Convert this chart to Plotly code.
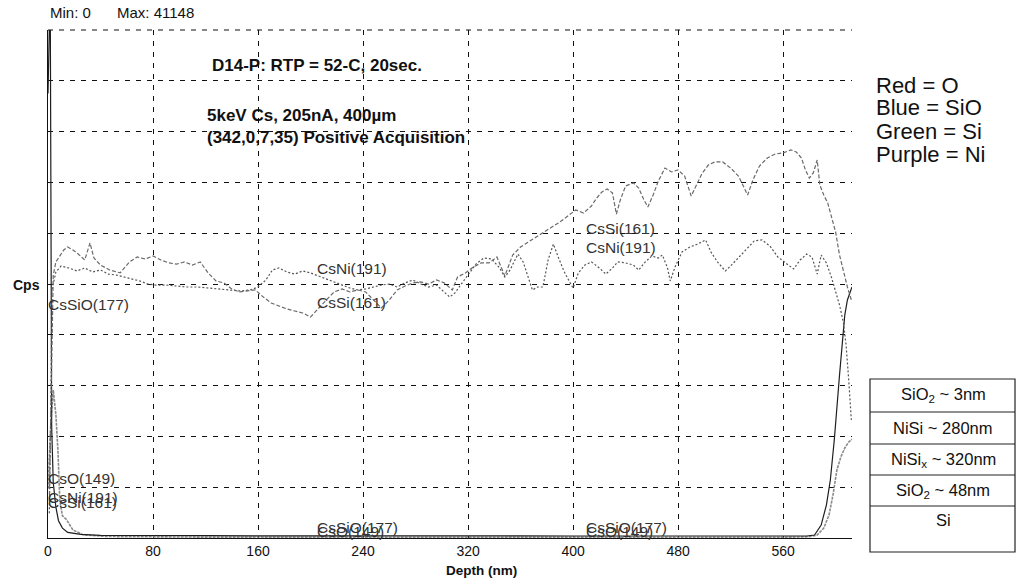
import plotly.graph_objects as go

# ---------------- data (depth in nm, intensity in counts/s) ----------------
depth_cssi = [1, 2.5, 4, 6, 9, 12, 15, 19, 23, 28,
              32, 35, 40, 47, 55, 62, 68, 74, 80, 86,
              92, 98, 104, 110, 116, 122, 128, 134, 140, 146,
              152, 158, 164, 170, 176, 182, 188, 194, 200, 206,
              212, 218, 224, 230, 236, 242, 248, 254, 260, 266,
              272, 278, 284, 290, 296, 302, 308, 312, 318, 324,
              330, 336, 342, 348, 354, 360, 366, 372, 378, 384,
              390, 396, 402, 408, 414, 418, 422, 426, 430, 433,
              436, 440, 446, 450, 454, 457, 461, 465, 470, 475,
              480, 485, 490, 494, 498, 503, 508, 514, 520, 526,
              530, 533, 537, 542, 548, 554, 560, 566, 570, 574,
              577, 580, 583, 586, 588, 591, 594, 597, 600, 603,
              606, 609, 612]
cps_cssi = [3000, 12000, 21300, 22360, 22840, 23330, 23570, 23330, 23000, 22520,
            23900, 22680, 22110, 21710, 21470, 22360, 22760, 22600, 22840, 22520,
            22280, 22190, 22360, 22110, 22360, 21470, 20820, 20660, 20170, 19930,
            20010, 20090, 19520, 19040, 18790, 18550, 18390, 18230, 17900, 18630,
            19280, 19930, 20170, 19930, 20090, 19930, 19280, 18630, 19280, 20090,
            20410, 20660, 20740, 20570, 20900, 20660, 20090, 21140, 21470, 21950,
            22280, 22280, 22760, 21220, 22920, 23570, 23980, 24380, 24790, 25190,
            25600, 26080, 26570, 26330, 26890, 27540, 28030, 28270, 27950, 26240,
            27380, 28510, 28760, 28350, 27380, 26810, 27780, 28920, 29970, 29650,
            29810, 29320, 27700, 28590, 29480, 30210, 30460, 30460, 29970, 29320,
            28510, 27780, 29000, 30130, 30780, 31100, 31190, 31430, 31270, 30780,
            29810, 29160, 29570, 30620, 28590, 27780, 27140, 25920, 24790, 22920,
            21550, 20330, 19280]

depth_csni = [1, 2, 3, 6, 10, 16, 22, 28, 34, 40,
              46, 52, 58, 64, 70, 76, 82, 90, 98, 106,
              114, 122, 130, 138, 146, 154, 160, 166, 171, 176,
              182, 188, 194, 200, 206, 212, 218, 224, 230, 236,
              242, 248, 254, 260, 266, 272, 278, 284, 290, 296,
              302, 306, 310, 314, 320, 326, 332, 338, 344, 348,
              352, 358, 362, 366, 369, 373, 377, 381, 385, 389,
              393, 397, 400, 404, 409, 414, 420, 425, 430, 434,
              440, 446, 450, 455, 460, 465, 468, 472, 474, 478,
              483, 489, 495, 501, 505, 510, 516, 520, 526, 532,
              538, 544, 550, 556, 562, 568, 573, 578, 582, 586,
              589, 593, 597, 600, 603, 606, 608, 610, 612]
cps_csni = [2000, 9000, 20090, 21550, 22030, 21870, 21630, 21870, 21550, 21710,
            21380, 21300, 21140, 20980, 20820, 20570, 20490, 20490, 20410, 20330,
            20330, 20250, 20170, 20090, 20010, 20090, 20330, 20900, 21710, 21870,
            21550, 21380, 21630, 21470, 21220, 20980, 20740, 20490, 20250, 20090,
            20170, 20330, 20490, 20570, 20330, 20660, 20900, 20570, 20330, 20490,
            19930, 19520, 19850, 20410, 21300, 22190, 22680, 22600, 21870, 21140,
            21710, 23000, 22360, 21060, 20090, 20330, 20330, 22520, 23810, 22680,
            21630, 20820, 20250, 21470, 22110, 22360, 21870, 21380, 21870, 22360,
            22280, 22110, 21710, 22360, 22840, 22680, 22920, 21870, 20820, 22030,
            23170, 23570, 23810, 24140, 23170, 22360, 21630, 22030, 22680, 23330,
            24060, 24140, 23650, 22760, 22280, 21790, 22520, 23000, 22760, 21380,
            22920, 22280, 21060, 19930, 18870, 17420, 15630, 12800, 9560]

depth_cssio = [0, 1, 1.8, 2.2, 2.8, 4, 6, 8, 11, 15,
               25, 40, 60, 90, 120, 160, 200, 240, 280, 320,
               360, 400, 440, 480, 520, 560, 575, 578, 584, 589,
               593, 596, 599, 601, 603, 605, 607, 609, 611, 612.5]
cps_cssio = [36000, 41148, 41148, 24000, 9000, 4500, 2500, 1400, 800, 450,
             300, 220, 200, 180, 190, 170, 180, 160, 170, 150,
             170, 160, 150, 170, 160, 150, 150, 160, 240, 1050,
             2670, 4700, 7940, 10770, 13200, 15630, 18060, 19280, 19930, 20330]

depth_cso = [0, 2, 4, 6, 7.6, 9, 11, 14, 19, 27,
             45, 80, 120, 160, 200, 240, 280, 320, 360, 400,
             440, 480, 520, 560, 580, 586, 591, 595, 598, 601,
             604, 607, 610, 612.5]
cps_cso = [4000, 9000, 12000, 10000, 7000, 3000, 1800, 1500, 650, 250,
           120, 80, 70, 75, 60, 70, 65, 60, 70, 60,
           65, 60, 70, 60, 100, 240, 810, 1860, 3480, 5510,
           6560, 7290, 7780, 8000]

x_ticks = [0, 80, 160, 240, 320, 400, 480, 560]
y_min, y_max = 0, 41148
x_max = 612.5

layers = ["SiO<sub>2</sub> ~ 3nm", "NiSi ~ 280nm", "NiSi<sub>x</sub> ~ 320nm",
          "SiO<sub>2</sub> ~ 48nm", "Si"]
color_key = ["Red = O", "Blue = SiO", "Green = Si", "Purple = Ni"]

# ---------------- figure ----------------
W, H = 1016, 582
L, R, T, B = 48, 164, 30, 44
PW, PH = W - L - R, H - T - B
FONT = "Liberation Sans, Arial, sans-serif"


def px(x):
    return (x - L) / PW


def py(y):
    return (H - B - y) / PH


def ann(text, x, y, size, bold=False, xanchor="left", color="#111"):
    return dict(text=f"<b>{text}</b>" if bold else text,
                x=px(x), y=py(y), xref="paper", yref="paper",
                xanchor=xanchor, yanchor="middle", showarrow=False,
                font=dict(size=size, color=color, family=FONT))


fig = go.Figure()
fig.add_trace(go.Scatter(x=depth_cso, y=cps_cso, mode="lines",
                         line=dict(color="#8a8a8a", width=1.6, dash="3px,1px"),
                         hoverinfo="skip", showlegend=False))
fig.add_trace(go.Scatter(x=depth_cssio, y=cps_cssio, mode="lines",
                         line=dict(color="#1e1e1e", width=1.2),
                         hoverinfo="skip", showlegend=False))
fig.add_trace(go.Scatter(x=depth_csni, y=cps_csni, mode="lines",
                         line=dict(color="#555555", width=1.2, dash="2px,2px"),
                         hoverinfo="skip", showlegend=False))
fig.add_trace(go.Scatter(x=depth_cssi, y=cps_cssi, mode="lines",
                         line=dict(color="#6a6a6a", width=1.2, dash="4px,2px"),
                         hoverinfo="skip", showlegend=False))

grid = dict(showgrid=True, gridcolor="#111", gridwidth=1, griddash="5px,6px",
            zeroline=False, showline=True, linecolor="#111", linewidth=1)

fig.update_xaxes(range=[0, x_max], tickvals=x_ticks, ticks="",
                 tickfont=dict(size=14, color="#111", family=FONT), **grid)
fig.update_yaxes(range=[y_min, y_max], tick0=0, dtick=(y_max - y_min) / 10,
                 showticklabels=False, ticks="", **grid)

LBL = 15.5
annotations = [
    ann("Min: 0", 48, 12, 15),
    ann("Max: 41148", 115, 12, 15),
    ann("D14-P: RTP = 52-C, 20sec.", 210, 65, 17, bold=True),
    ann("5keV Cs, 205nA, 400µm", 205, 115, 17, bold=True),
    ann("(342,0,7,35) Positive Acquisition", 205, 138, 17, bold=True),
    ann("Cps", 42, 285, 14, bold=True, xanchor="right"),
    ann("Depth (nm)", 481, 571, 13.5, bold=True, xanchor="center"),
    # series labels
    ann("CsSiO(177)", 46, 305, LBL, color="#333"),
    ann("CsO(149)", 46, 478, LBL, color="#333"),
    ann("CsNi(191)", 46, 497, LBL, color="#333"),
    ann("CsSi(161)", 46, 502, LBL, color="#333"),
    ann("CsNi(191)", 315, 268, LBL, color="#333"),
    ann("CsSi(161)", 315, 303, LBL, color="#333"),
    ann("CsSi(161)", 584, 228, LBL, color="#333"),
    ann("CsNi(191)", 584, 247, LBL, color="#333"),
    ann("CsSiO(177)", 315, 527, LBL, color="#333"),
    ann("CsO(149)", 315, 531, LBL, color="#333"),
    ann("CsSiO(177)", 584, 527, LBL, color="#333"),
    ann("CsO(149)", 584, 531, LBL, color="#333"),
]
for i, t in enumerate(color_key):
    annotations.append(ann(t, 874, 85 + i * 23, 22))

# layer table
row_edges = [379, 412, 444, 475, 506, 552]
row_text_y = [395, 428, 460, 491, 520]
for t, yy in zip(layers, row_text_y):
    annotations.append(ann(t, 943, yy, 16.5, xanchor="center"))

shapes = [dict(type="line", xref="paper", yref="paper", x0=0, x1=1, y0=1, y1=1,
               line=dict(color="#111", width=1, dash="5px,6px")),
          dict(type="rect", xref="paper", yref="paper",
               x0=px(870), x1=px(1015), y0=py(379), y1=py(552),
               line=dict(color="#222", width=1.2))]
for yy in row_edges[1:-1]:
    shapes.append(dict(type="line", xref="paper", yref="paper",
                       x0=px(870), x1=px(1015), y0=py(yy), y1=py(yy),
                       line=dict(color="#222", width=1.2)))

fig.update_layout(width=W, height=H, margin=dict(l=L, r=R, t=T, b=B),
                  paper_bgcolor="white", plot_bgcolor="white",
                  font=dict(family=FONT, color="#111"),
                  annotations=annotations, shapes=shapes, showlegend=False)

fig.write_html("out.html")
